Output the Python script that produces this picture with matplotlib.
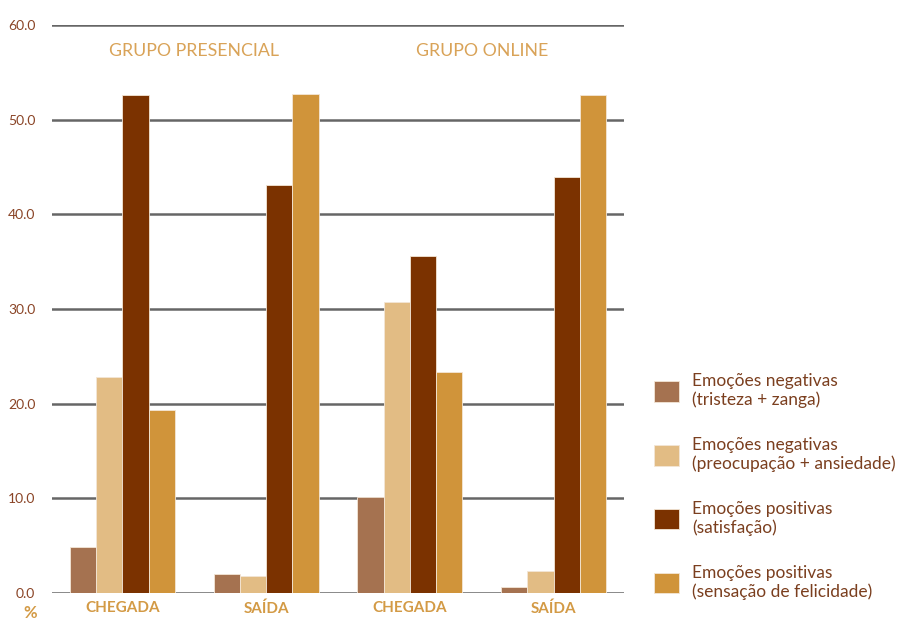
import numpy as np
import matplotlib.pyplot as plt
from matplotlib.patches import Patch

plt.rcParams['font.family'] = ['Lato', 'DejaVu Sans']

categories = ['CHEGADA', 'SAÍDA', 'CHEGADA', 'SAÍDA']
groups = ['GRUPO PRESENCIAL', 'GRUPO ONLINE']
series_labels = [
    'Emoções negativas\n(tristeza + zanga)',
    'Emoções negativas\n(preocupação + ansiedade)',
    'Emoções positivas\n(satisfação)',
    'Emoções positivas\n(sensação de felicidade)',
]
neg_tristeza = [4.9, 2.0, 10.1, 0.6]
neg_preocupacao = [22.8, 1.8, 30.7, 2.3]
pos_satisfacao = [52.6, 43.1, 35.6, 43.9]
pos_felicidade = [19.3, 52.7, 23.3, 52.6]
colors = ['#A57250', '#E2BC84', '#7B3200', '#D0943A']

series = [neg_tristeza, neg_preocupacao, pos_satisfacao, pos_felicidade]

fig = plt.figure(figsize=(9.09, 6.21), dpi=100)
ax = fig.add_axes([52 / 909, 28 / 621, 572 / 909, 568 / 621])

x = np.arange(len(categories))
w = 0.183
for i, (vals, col) in enumerate(zip(series, colors)):
    ax.bar(x + (i - 1.5) * w, vals, w, color=col, edgecolor='#f3e6d6',
           linewidth=0.6, label=series_labels[i], zorder=3)

ax.set_xlim(-0.49, 3.49)
ax.set_ylim(0, 60)
ax.set_yticks(np.arange(0, 61, 10))
ax.set_yticklabels([f'{v:.1f}' for v in np.arange(0, 61, 10)],
                   color='#8A4426', fontsize=10)
ax.tick_params(axis='y', length=0, pad=12)
ax.set_xticks(x)
ax.set_xticklabels(categories, color='#D39A45', fontsize=11, fontweight='bold')
ax.tick_params(axis='x', length=0, pad=6)
ax.yaxis.grid(True, color='#666666', linewidth=1.8, zorder=1)
ax.set_axisbelow(True)
for s in ax.spines.values():
    s.set_visible(False)

# group titles
for g, name in enumerate(groups):
    ax.text(0.5 + 2 * g, 57.3, name, ha='center', va='center',
            color='#D9A358', fontsize=12.8)

fig.text(30 / 909, 1 - 613 / 621, '%', ha='center', va='center',
         color='#D39A45', fontsize=12, fontweight='bold')

handles = [Patch(facecolor=c, edgecolor='#f3e6d6', linewidth=0.6) for c in colors]
fig.legend(handles, series_labels, loc='upper left',
           bbox_to_anchor=(647 / 909, 1 - 366 / 621), frameon=False,
           fontsize=12.5, labelcolor='#7B3F1F', handlelength=1.45,
           handleheight=1.45, labelspacing=1.65, handletextpad=0.75,
           borderaxespad=0)

fig.savefig('out.png', dpi=100)
